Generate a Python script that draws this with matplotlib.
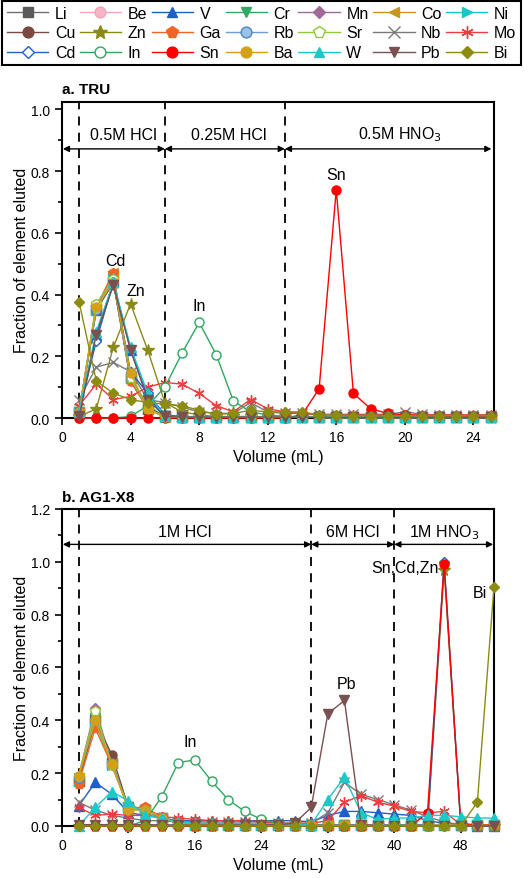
import matplotlib
matplotlib.use("Agg")
import matplotlib.pyplot as plt
from matplotlib.ticker import MultipleLocator

plt.rcParams['font.family'] = ['Liberation Sans', 'DejaVu Sans']

elements = ["Li", "Be", "V", "Cr", "Mn", "Co", "Ni",
            "Cu", "Zn", "Ga", "Rb", "Sr", "Nb", "Mo",
            "Cd", "In", "Sn", "Ba", "W", "Pb", "Bi"]

# ---------------- panel a: TRU (x = 1..25 mL) ----------------
vol_tru = [1, 2, 3, 4, 5, 6, 7, 8, 9, 10, 11, 12, 13, 14, 15, 16, 17, 18, 19, 20, 21, 22, 23, 24, 25]
tru = {
    "Li": [0.02, 0.35, 0.44, 0.13, 0.03, 0.005, 0.004, 0.003, 0.003, 0.003, 0.003, 0.003, 0.003, 0.003, 0.002, 0.002, 0.002, 0.002, 0.002, 0.002, 0.002, 0.002, 0.002, 0.002, 0.002],
    "Be": [0.02, 0.37, 0.45, 0.12, 0.03, 0.004, 0.003, 0.003, 0.003, 0.003, 0.003, 0.003, 0.003, 0.003, 0.002, 0.002, 0.002, 0.002, 0.002, 0.002, 0.002, 0.002, 0.002, 0.002, 0.002],
    "V":  [0.02, 0.27, 0.44, 0.22, 0.07, 0.005, 0.004, 0.003, 0.003, 0.003, 0.003, 0.003, 0.003, 0.003, 0.002, 0.002, 0.002, 0.002, 0.002, 0.002, 0.002, 0.002, 0.002, 0.002, 0.002],
    "Cr": [0.02, 0.36, 0.45, 0.13, 0.04, 0.005, 0.004, 0.003, 0.003, 0.003, 0.003, 0.003, 0.003, 0.003, 0.002, 0.002, 0.002, 0.002, 0.002, 0.002, 0.002, 0.002, 0.002, 0.002, 0.002],
    "Mn": [0.02, 0.36, 0.44, 0.12, 0.03, 0.004, 0.003, 0.003, 0.003, 0.003, 0.003, 0.003, 0.003, 0.003, 0.002, 0.002, 0.002, 0.002, 0.002, 0.002, 0.002, 0.002, 0.002, 0.002, 0.002],
    "Co": [0.02, 0.36, 0.47, 0.13, 0.03, 0.004, 0.003, 0.003, 0.003, 0.003, 0.003, 0.003, 0.003, 0.003, 0.002, 0.002, 0.002, 0.002, 0.002, 0.002, 0.002, 0.002, 0.002, 0.002, 0.002],
    "Ni": [0.02, 0.35, 0.45, 0.13, 0.04, 0.004, 0.003, 0.003, 0.003, 0.003, 0.003, 0.003, 0.003, 0.003, 0.002, 0.002, 0.002, 0.002, 0.002, 0.002, 0.002, 0.002, 0.002, 0.002, 0.002],
    "Cu": [0.02, 0.35, 0.44, 0.13, 0.035, 0.004, 0.003, 0.003, 0.003, 0.003, 0.003, 0.003, 0.003, 0.003, 0.002, 0.002, 0.002, 0.002, 0.002, 0.002, 0.002, 0.002, 0.002, 0.002, 0.002],
    "Zn": [0.005, 0.03, 0.23, 0.37, 0.22, 0.05, 0.02, 0.01, 0.005, 0.005, 0.005, 0.004, 0.004, 0.004, 0.003, 0.003, 0.003, 0.003, 0.003, 0.003, 0.003, 0.003, 0.003, 0.003, 0.003],
    "Ga": [0.02, 0.36, 0.47, 0.12, 0.03, 0.004, 0.003, 0.003, 0.003, 0.003, 0.003, 0.003, 0.003, 0.003, 0.002, 0.002, 0.002, 0.002, 0.002, 0.002, 0.002, 0.002, 0.002, 0.002, 0.002],
    "Rb": [0.02, 0.35, 0.45, 0.13, 0.03, 0.004, 0.003, 0.003, 0.003, 0.003, 0.003, 0.003, 0.003, 0.003, 0.002, 0.002, 0.002, 0.002, 0.002, 0.002, 0.002, 0.002, 0.002, 0.002, 0.002],
    "Sr": [0.02, 0.37, 0.45, 0.13, 0.03, 0.004, 0.003, 0.003, 0.003, 0.003, 0.003, 0.003, 0.003, 0.003, 0.002, 0.002, 0.002, 0.002, 0.002, 0.002, 0.002, 0.002, 0.002, 0.002, 0.002],
    "Nb": [0.06, 0.165, 0.18, 0.15, 0.06, 0.05, 0.035, 0.02, 0.015, 0.015, 0.05, 0.02, 0.015, 0.015, 0.012, 0.012, 0.012, 0.012, 0.012, 0.02, 0.012, 0.01, 0.01, 0.01, 0.01],
    "Mo": [0.04, 0.11, 0.06, 0.07, 0.10, 0.115, 0.11, 0.08, 0.04, 0.02, 0.06, 0.03, 0.02, 0.015, 0.01, 0.01, 0.01, 0.01, 0.01, 0.01, 0.01, 0.01, 0.01, 0.01, 0.01],
    "Cd": [0.02, 0.25, 0.44, 0.15, 0.08, 0.01, 0.005, 0.004, 0.003, 0.003, 0.003, 0.003, 0.003, 0.003, 0.002, 0.002, 0.002, 0.002, 0.002, 0.002, 0.002, 0.002, 0.002, 0.002, 0.002],
    "In": [0.0, 0.0, 0.0, 0.005, 0.04, 0.10, 0.21, 0.31, 0.205, 0.055, 0.02, 0.01, 0.005, 0.003, 0.002, 0.002, 0.002, 0.002, 0.002, 0.002, 0.002, 0.002, 0.002, 0.002, 0.002],
    "Sn": [0.0, 0.0, 0.0, 0.0, 0.0, 0.0, 0.0, 0.0, 0.0, 0.0, 0.0, 0.0, 0.0, 0.01, 0.095, 0.74, 0.08, 0.03, 0.015, 0.01, 0.008, 0.006, 0.005, 0.005, 0.005],
    "Ba": [0.02, 0.36, 0.44, 0.145, 0.03, 0.003, 0.003, 0.003, 0.003, 0.003, 0.003, 0.003, 0.003, 0.003, 0.002, 0.002, 0.002, 0.002, 0.002, 0.002, 0.002, 0.002, 0.002, 0.002, 0.002],
    "W":  [0.02, 0.28, 0.44, 0.23, 0.08, 0.005, 0.004, 0.003, 0.003, 0.003, 0.003, 0.003, 0.003, 0.003, 0.002, 0.002, 0.002, 0.002, 0.002, 0.002, 0.002, 0.002, 0.002, 0.002, 0.002],
    "Pb": [0.005, 0.27, 0.43, 0.22, 0.06, 0.005, 0.003, 0.003, 0.003, 0.003, 0.003, 0.003, 0.003, 0.003, 0.002, 0.002, 0.002, 0.002, 0.002, 0.002, 0.002, 0.002, 0.002, 0.002, 0.002],
    "Bi": [0.375, 0.12, 0.08, 0.06, 0.05, 0.045, 0.04, 0.025, 0.012, 0.015, 0.025, 0.02, 0.02, 0.02, 0.01, 0.01, 0.008, 0.008, 0.008, 0.008, 0.008, 0.008, 0.008, 0.008, 0.008],
}

# ---------------- panel b: AG1-X8 (x = 2..52 mL) ----------------
vol_ag = [2, 4, 6, 8, 10, 12, 14, 16, 18, 20, 22, 24, 26, 28, 30, 32, 34, 36, 38, 40, 42, 44, 46, 48, 50, 52]
ag = {
    "Li": [0.17, 0.40, 0.24, 0.07, 0.06, 0.03, 0.01, 0.005, 0.003, 0.002, 0.002, 0.002, 0.002, 0.002, 0.002, 0.002, 0.002, 0.002, 0.002, 0.002, 0.002, 0.002, 0.002, 0.002, 0.002, 0.002],
    "Be": [0.18, 0.43, 0.23, 0.07, 0.06, 0.03, 0.01, 0.005, 0.003, 0.002, 0.002, 0.002, 0.002, 0.002, 0.002, 0.002, 0.002, 0.002, 0.002, 0.002, 0.002, 0.002, 0.002, 0.002, 0.002, 0.002],
    "V":  [0.075, 0.165, 0.12, 0.05, 0.04, 0.03, 0.02, 0.02, 0.02, 0.02, 0.02, 0.02, 0.02, 0.02, 0.015, 0.04, 0.055, 0.055, 0.05, 0.045, 0.04, 0.02, 0.01, 0.005, 0.0, 0.0],
    "Cr": [0.18, 0.41, 0.23, 0.07, 0.06, 0.03, 0.01, 0.005, 0.003, 0.002, 0.002, 0.002, 0.002, 0.002, 0.002, 0.002, 0.002, 0.002, 0.002, 0.002, 0.002, 0.002, 0.002, 0.002, 0.002, 0.002],
    "Mn": [0.19, 0.445, 0.24, 0.07, 0.06, 0.03, 0.01, 0.005, 0.003, 0.002, 0.002, 0.002, 0.002, 0.002, 0.002, 0.002, 0.002, 0.002, 0.002, 0.002, 0.002, 0.002, 0.002, 0.002, 0.002, 0.002],
    "Co": [0.18, 0.40, 0.24, 0.065, 0.06, 0.03, 0.01, 0.005, 0.003, 0.002, 0.002, 0.002, 0.002, 0.002, 0.002, 0.002, 0.002, 0.002, 0.002, 0.002, 0.002, 0.002, 0.002, 0.002, 0.002, 0.002],
    "Ni": [0.17, 0.39, 0.23, 0.07, 0.06, 0.03, 0.01, 0.005, 0.003, 0.002, 0.002, 0.002, 0.002, 0.002, 0.002, 0.002, 0.002, 0.002, 0.002, 0.002, 0.002, 0.002, 0.002, 0.002, 0.002, 0.002],
    "Cu": [0.17, 0.40, 0.27, 0.07, 0.06, 0.03, 0.01, 0.005, 0.003, 0.002, 0.002, 0.002, 0.002, 0.002, 0.002, 0.002, 0.002, 0.002, 0.002, 0.002, 0.002, 0.002, 0.002, 0.002, 0.002, 0.002],
    "Zn": [0.0, 0.0, 0.0, 0.0, 0.0, 0.0, 0.0, 0.0, 0.0, 0.0, 0.0, 0.0, 0.0, 0.0, 0.0, 0.0, 0.0, 0.0, 0.0, 0.0, 0.0, 0.0, 0.97, 0.005, 0.0, 0.0],
    "Ga": [0.16, 0.37, 0.23, 0.07, 0.07, 0.035, 0.01, 0.005, 0.003, 0.002, 0.002, 0.002, 0.002, 0.002, 0.002, 0.002, 0.002, 0.002, 0.002, 0.002, 0.002, 0.002, 0.002, 0.002, 0.002, 0.002],
    "Rb": [0.18, 0.41, 0.24, 0.07, 0.06, 0.03, 0.01, 0.005, 0.003, 0.002, 0.002, 0.002, 0.002, 0.002, 0.002, 0.002, 0.002, 0.002, 0.002, 0.002, 0.002, 0.002, 0.002, 0.002, 0.002, 0.002],
    "Sr": [0.19, 0.435, 0.23, 0.07, 0.06, 0.03, 0.01, 0.005, 0.003, 0.002, 0.002, 0.002, 0.002, 0.002, 0.002, 0.002, 0.002, 0.002, 0.002, 0.002, 0.002, 0.002, 0.002, 0.002, 0.002, 0.002],
    "Nb": [0.09, 0.06, 0.04, 0.03, 0.02, 0.02, 0.015, 0.015, 0.015, 0.015, 0.015, 0.015, 0.012, 0.01, 0.01, 0.05, 0.165, 0.12, 0.10, 0.08, 0.06, 0.035, 0.015, 0.005, 0.0, 0.0],
    "Mo": [0.07, 0.04, 0.045, 0.04, 0.04, 0.035, 0.03, 0.025, 0.02, 0.02, 0.02, 0.015, 0.01, 0.01, 0.01, 0.02, 0.09, 0.115, 0.09, 0.075, 0.055, 0.05, 0.055, 0.005, 0.0, 0.0],
    "Cd": [0.003, 0.003, 0.003, 0.003, 0.003, 0.003, 0.003, 0.003, 0.003, 0.003, 0.003, 0.003, 0.003, 0.003, 0.003, 0.003, 0.003, 0.003, 0.003, 0.003, 0.003, 0.003, 1.0, 0.005, 0.0, 0.0],
    "In": [0.0, 0.0, 0.0, 0.0, 0.02, 0.11, 0.24, 0.25, 0.17, 0.10, 0.055, 0.025, 0.01, 0.005, 0.0, 0.0, 0.0, 0.0, 0.0, 0.0, 0.0, 0.0, 0.0, 0.0, 0.0, 0.0],
    "Sn": [0.0, 0.0, 0.0, 0.0, 0.0, 0.0, 0.0, 0.0, 0.0, 0.0, 0.0, 0.0, 0.0, 0.0, 0.0, 0.0, 0.0, 0.0, 0.0, 0.0, 0.0, 0.05, 0.99, 0.01, 0.003, 0.003],
    "Ba": [0.19, 0.40, 0.235, 0.06, 0.06, 0.03, 0.01, 0.005, 0.003, 0.002, 0.002, 0.002, 0.002, 0.002, 0.002, 0.002, 0.002, 0.002, 0.002, 0.002, 0.002, 0.002, 0.002, 0.002, 0.002, 0.002],
    "W":  [0.0, 0.07, 0.13, 0.095, 0.04, 0.03, 0.015, 0.01, 0.01, 0.01, 0.008, 0.008, 0.008, 0.008, 0.005, 0.10, 0.185, 0.05, 0.025, 0.03, 0.03, 0.04, 0.04, 0.035, 0.03, 0.03],
    "Pb": [0.005, 0.005, 0.005, 0.005, 0.005, 0.003, 0.003, 0.003, 0.003, 0.003, 0.003, 0.003, 0.005, 0.01, 0.07, 0.425, 0.475, 0.005, 0.0, 0.0, 0.0, 0.0, 0.0, 0.0, 0.0, 0.0],
    "Bi": [0.0, 0.0, 0.0, 0.0, 0.0, 0.0, 0.0, 0.0, 0.0, 0.0, 0.0, 0.0, 0.0, 0.0, 0.0, 0.0, 0.0, 0.0, 0.0, 0.0, 0.0, 0.0, 0.0, 0.0, 0.09, 0.905],
}

# style: (line colour, marker, marker face, marker edge)
styles = {
    "Li": ("#707070", "s", "#5a5a5a", "#5a5a5a"),
    "Be": ("#f2a7b9", "o", "#f4b6c6", "#f2a7b9"),
    "V":  ("#1f5fc8", "^", "#1f5fc8", "#1f5fc8"),
    "Cr": ("#33a860", "v", "#33a860", "#33a860"),
    "Mn": ("#a06a98", "D", "#a06a98", "#a06a98"),
    "Co": ("#c8961e", "<", "#c8961e", "#c8961e"),
    "Ni": ("#18c8c8", ">", "#18c8c8", "#18c8c8"),
    "Cu": ("#7a4a40", "o", "#7a4a40", "#7a4a40"),
    "Zn": ("#8a8a18", "*", "#8a8a18", "#8a8a18"),
    "Ga": ("#f06428", "p", "#f06428", "#f06428"),
    "Rb": ("#6a9ed2", "o", "#9cc0e6", "#4f86c0"),
    "Sr": ("#8fc83c", "p", "white", "#8fc83c"),
    "Nb": ("#7a7a7a", "x", "#7a7a7a", "#7a7a7a"),
    "Mo": ("#f03c3c", (6, 2, 0), "#f03c3c", "#f03c3c"),
    "Cd": ("#1e64c8", "D", "white", "#1e64c8"),
    "In": ("#2ea860", "o", "white", "#2ea860"),
    "Sn": ("#ff0000", "o", "#ff0000", "#ff0000"),
    "Ba": ("#d4a017", "o", "#d4a017", "#d4a017"),
    "W":  ("#1ec8c8", "^", "#1ec8c8", "#1ec8c8"),
    "Pb": ("#7a5050", "v", "#7a5050", "#7a5050"),
    "Bi": ("#8c8c10", "D", "#8c8c10", "#8c8c10"),
}
msizes = {"D": 5.5, "*": 8.5, "x": 7, "p": 7}

fig = plt.figure(figsize=(5.24, 8.79), dpi=100)
ax1 = fig.add_axes([0.1183, 0.5233, 0.8244, 0.3599])
ax2 = fig.add_axes([0.1183, 0.0592, 0.8244, 0.3606])


def draw(ax, x, data):
    for el in elements:
        lc, mk, mf, me = styles[el]
        ms = msizes.get(mk, 6.5) if isinstance(mk, str) else 7.5
        ax.plot(x, data[el], color=lc, lw=1.0, marker=mk, ms=ms,
                mfc=mf, mec=me, mew=1.0, label=el, clip_on=False, zorder=3)


draw(ax1, vol_tru, tru)
draw(ax2, vol_ag, ag)


def style_axes(ax, xmax, ymax, xmaj, xmin_, ymaj, ymin_):
    ax.set_xlim(0, xmax)
    ax.set_ylim(0, ymax)
    ax.xaxis.set_major_locator(MultipleLocator(xmaj))
    ax.xaxis.set_minor_locator(MultipleLocator(xmin_))
    ax.yaxis.set_major_locator(MultipleLocator(ymaj))
    ax.yaxis.set_minor_locator(MultipleLocator(ymin_))
    ax.tick_params(which='both', direction='out', top=False, right=False,
                   labelsize=10, width=1.2)
    ax.tick_params(which='major', length=5)
    ax.tick_params(which='minor', length=3)
    for s in ax.spines.values():
        s.set_linewidth(1.5)
    ax.set_xlabel("Volume (mL)", fontsize=11.5, labelpad=4)
    ax.set_ylabel("Fraction of element eluted", fontsize=11.5, labelpad=1)


style_axes(ax1, 25.2, 1.025, 4, 2, 0.2, 0.1)
style_axes(ax2, 52, 1.2, 8, 4, 0.2, 0.1)
ax1.yaxis.set_major_formatter(plt.FuncFormatter(lambda v, p: f"{v:.1f}"))
ax2.yaxis.set_major_formatter(plt.FuncFormatter(lambda v, p: f"{v:.1f}"))

fs = 11.5
# panel a decorations
for xv in [1, 6, 13]:
    ax1.axvline(xv, color='k', ls=(0, (5, 4)), lw=1.3, zorder=2)
arr = dict(arrowstyle='<|-|>', color='k', lw=1.0, mutation_scale=9,
           shrinkA=0, shrinkB=0)
for a, b in [(0.05, 6), (6, 13), (13, 25.05)]:
    ax1.annotate("", xy=(a, 0.872), xytext=(b, 0.872), arrowprops=arr)
ax1.text(3.6, 0.92, "0.5M HCl", ha='center', va='center', fontsize=fs)
ax1.text(9.7, 0.92, "0.25M HCl", ha='center', va='center', fontsize=fs)
ax1.text(19.7, 0.92, "0.5M HNO$_3$", ha='center', va='center', fontsize=fs)
ax1.text(16.0, 0.79, "Sn", ha='center', va='center', fontsize=fs)
ax1.text(3.1, 0.51, "Cd", ha='center', va='center', fontsize=fs)
ax1.text(4.3, 0.413, "Zn", ha='center', va='center', fontsize=fs)
ax1.text(8.0, 0.363, "In", ha='center', va='center', fontsize=fs)
ax1.set_title("a. TRU", loc='left', fontsize=11, fontweight='bold', pad=6)

# panel b decorations
for xv in [2, 30, 40]:
    ax2.axvline(xv, color='k', ls=(0, (5, 4)), lw=1.3, zorder=2)
for a, b in [(0.1, 30), (30, 40), (40, 51.9)]:
    ax2.annotate("", xy=(a, 1.066), xytext=(b, 1.066), arrowprops=arr)
ax2.text(14.8, 1.115, "1M HCl", ha='center', va='center', fontsize=fs)
ax2.text(35.0, 1.115, "6M HCl", ha='center', va='center', fontsize=fs)
ax2.text(46.0, 1.115, "1M HNO$_3$", ha='center', va='center', fontsize=fs)
ax2.text(45.3, 0.98, "Sn,Cd,Zn", ha='right', va='center', fontsize=fs)
ax2.text(50.3, 0.885, "Bi", ha='center', va='center', fontsize=fs)
ax2.text(34.2, 0.54, "Pb", ha='center', va='center', fontsize=fs)
ax2.text(15.4, 0.32, "In", ha='center', va='center', fontsize=fs)
ax2.set_title("b. AG1-X8", loc='left', fontsize=11, fontweight='bold', pad=6)

# legend (row-major order like the reference)
handles, labels = ax1.get_legend_handles_labels()
ncol, nrow = 7, 3
order = [r * ncol + c for c in range(ncol) for r in range(nrow)]
leg = fig.legend([handles[i] for i in order], [labels[i] for i in order],
                 ncol=ncol, loc='lower left',
                 bbox_to_anchor=(0.004, 1 - 66 / 879, 0.99, 65 / 879),
                 mode='expand', fontsize=11.5, frameon=True, fancybox=False,
                 edgecolor='black', framealpha=1, handlelength=2.6,
                 handletextpad=0.4, columnspacing=0.3, borderaxespad=0,
                 labelspacing=0.3, borderpad=0.3, markerscale=1.2)
leg.get_frame().set_linewidth(1.5)

fig.savefig("out.png", dpi=100)
